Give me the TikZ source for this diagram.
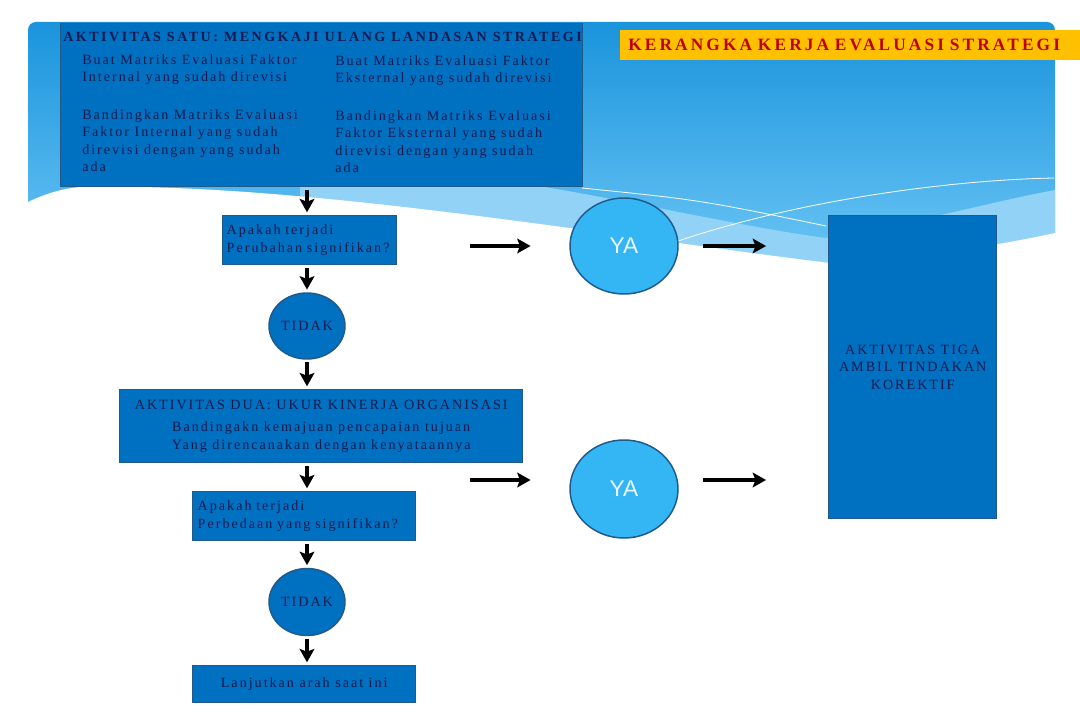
\documentclass[tikz,border=0pt]{standalone}
\usepackage{fontspec}
\setmainfont{Liberation Serif}
\newfontfamily\widefont{Liberation Serif}[LetterSpace=14]
\newfontfamily\headfont{Liberation Serif}[LetterSpace=18]
\newfontfamily\yafont{Liberation Sans}
\usepackage{tikz}
\usetikzlibrary{arrows.meta, positioning, calc, shapes.geometric}

\definecolor{boxblue}{RGB}{0,112,192}
\definecolor{boxline}{RGB}{31,90,138}
\definecolor{yablue}{RGB}{52,182,245}
\definecolor{navy}{RGB}{26,26,80}
\definecolor{bgtop}{RGB}{26,148,220}
\definecolor{bgbot}{RGB}{98,192,242}
\definecolor{bgband}{RGB}{146,210,246}
\definecolor{titleorange}{RGB}{255,192,0}
\definecolor{titlered}{RGB}{192,0,0}

\begin{document}
\begin{tikzpicture}[
        x=0.75pt, y=-0.75pt,
        block/.style={rectangle, draw=boxline, line width=1.1pt, fill=boxblue, anchor=north west,
            inner sep=0pt, text=navy, font=\widefont\fontsize{10.6}{13.3}\selectfont},
        oval/.style={ellipse, draw=boxline, line width=1.1pt, inner sep=0pt},
        txt/.style={inner sep=0pt, anchor=north west, align=left, text=navy,
            font=\widefont\fontsize{10.6}{13.1}\selectfont},
        arrow/.style={-{Stealth[length=10pt, width=11pt, inset=2pt]}, line width=2.4pt,
            shorten <=2pt, shorten >=2pt}
    ]
        \useasboundingbox (0,0) rectangle (1080,720);
        \fill[white] (0,0) rectangle (1080,720);

        % Background wave
        \shade[top color=bgtop, bottom color=bgbot] (28,202) -- (28,30) to[out=90, in=180] (36,22)
            -- (1047,22) to[out=0, in=90] (1055,30) -- (1055,240) -- (80,240) -- cycle;
        \fill[bgband] (300,186) .. controls (420,184) and (480,182) .. (545,187)
            .. controls (650,205) and (750,228) .. (826,238)
            .. controls (920,222) and (1000,200) .. (1055,190) -- (1055,300) -- (300,300) -- cycle;
        \fill[white] (28,202) .. controls (45,194) and (60,189) .. (80,187)
            .. controls (300,182) and (600,235) .. (830,263)
            .. controls (920,258) and (1000,245) .. (1055,233) -- (1080,233) -- (1080,720)
            -- (0,720) -- (0,202) -- cycle;
        \draw[white, line width=0.6pt] (582,188) .. controls (700,200) .. (826,226);
        \draw[white, line width=0.6pt] (678,241) .. controls (800,200) and (950,180) .. (1054,178);

        % Title
        \node[anchor=north west, fill=titleorange, minimum height=30*0.75pt, text width=444*0.75pt,
            inner xsep=8*0.75pt, inner ysep=0pt, align=left, text=titlered,
            font=\headfont\bfseries\fontsize{13}{15}\selectfont] (judul) at (620,30)
            {KERANGKA KERJA EVALUASI STRATEGI};

        % Activity one
        \node[block, minimum width=522*0.75pt, minimum height=163*0.75pt] (satu) at (60,23) {};
        \node[txt, anchor=base west, font=\headfont\bfseries\fontsize{10.5}{13}\selectfont] (satuJudul)
            at (63,42) {AKTIVITAS SATU: MENGKAJI ULANG LANDASAN STRATEGI};
        \node[txt] (ifeBuat) at (82,54) {Buat Matriks Evaluasi Faktor\\Internal yang sudah direvisi};
        \node[txt] (efeBuat) at (335,55) {Buat Matriks Evaluasi Faktor\\Eksternal yang sudah direvisi};
        \node[txt] (ifeBanding) at (82,109) {Bandingkan Matriks Evaluasi\\Faktor Internal yang sudah\\direvisi dengan yang sudah\\ada};
        \node[txt] (efeBanding) at (335,110) {Bandingkan Matriks Evaluasi\\Faktor Eksternal yang sudah\\direvisi dengan yang sudah\\ada};

        % Decisions
        \node[block, minimum width=174*0.75pt, minimum height=49*0.75pt, text width=166*0.75pt,
            inner xsep=4*0.75pt, align=left] (tanyaSatu) at (222,215) {Apakah terjadi\\Perubahan signifikan?};
        \node[oval, fill=yablue, minimum width=108*0.75pt, minimum height=96*0.75pt,
            text={rgb,255:red,236;green,246;blue,255}, font=\yafont\fontsize{17}{20}\selectfont] (yaSatu) at (624,246) {YA};
        \node[block, minimum width=168*0.75pt, minimum height=303*0.75pt, align=center] (tiga) at (828,215)
            {AKTIVITAS TIGA\\AMBIL TINDAKAN\\KOREKTIF};
        \node[oval, fill=boxblue, minimum width=76*0.75pt, minimum height=66*0.75pt, text=navy,
            font=\widefont\fontsize{10.6}{13}\selectfont] (tidakSatu) at (307,326) {TIDAK};

        % Activity two
        \node[block, minimum width=403*0.75pt, minimum height=73*0.75pt, align=center] (dua) at (119,389)
            {AKTIVITAS DUA: UKUR KINERJA ORGANISASI\\[3pt]Bandingakn kemajuan pencapaian tujuan\\Yang direncanakan dengan kenyataannya};
        \node[oval, fill=yablue, minimum width=108*0.75pt, minimum height=98*0.75pt,
            text={rgb,255:red,236;green,246;blue,255}, font=\yafont\fontsize{17}{20}\selectfont] (yaDua) at (624,489) {YA};
        \node[block, minimum width=223*0.75pt, minimum height=49*0.75pt, text width=213*0.75pt,
            inner xsep=5*0.75pt, align=left] (tanyaDua) at (192,491) {Apakah terjadi\\Perbedaan yang signifikan?};
        \node[oval, fill=boxblue, minimum width=76*0.75pt, minimum height=67*0.75pt, text=navy,
            font=\widefont\fontsize{10.6}{13}\selectfont] (tidakDua) at (307,602) {TIDAK};
        \node[block, minimum width=223*0.75pt, minimum height=37*0.75pt, align=center] (lanjut) at (192,665)
            {Lanjutkan arah saat ini};

        % Arrows
        \draw[arrow] (tidakSatu.north |- satu.south) -- (tidakSatu.north |- tanyaSatu.north);
        \draw[arrow] (tidakSatu.north |- tanyaSatu.south) -- (tidakSatu.north);
        \draw[arrow] (tidakSatu.south) -- (tidakSatu.south |- dua.north);
        \draw[arrow] (tidakSatu.south |- dua.south) -- (tidakSatu.south |- tanyaDua.north);
        \draw[arrow] (tidakDua.north |- tanyaDua.south) -- (tidakDua.north);
        \draw[arrow] (tidakDua.south) -- (tidakDua.south |- lanjut.north);
        \draw[arrow] ($(yaSatu.west)+(-102,0)$) -- ($(yaSatu.west)+(-36,0)$);
        \draw[arrow] ($(yaSatu.east)+(22,0)$) -- ($(yaSatu.east)+(90,0)$);
        \draw[arrow] ($(yaDua.west)+(-102,-9)$) -- ($(yaDua.west)+(-36,-9)$);
        \draw[arrow] ($(yaDua.east)+(22,-9)$) -- ($(yaDua.east)+(90,-9)$);

    \end{tikzpicture}
\end{document}
